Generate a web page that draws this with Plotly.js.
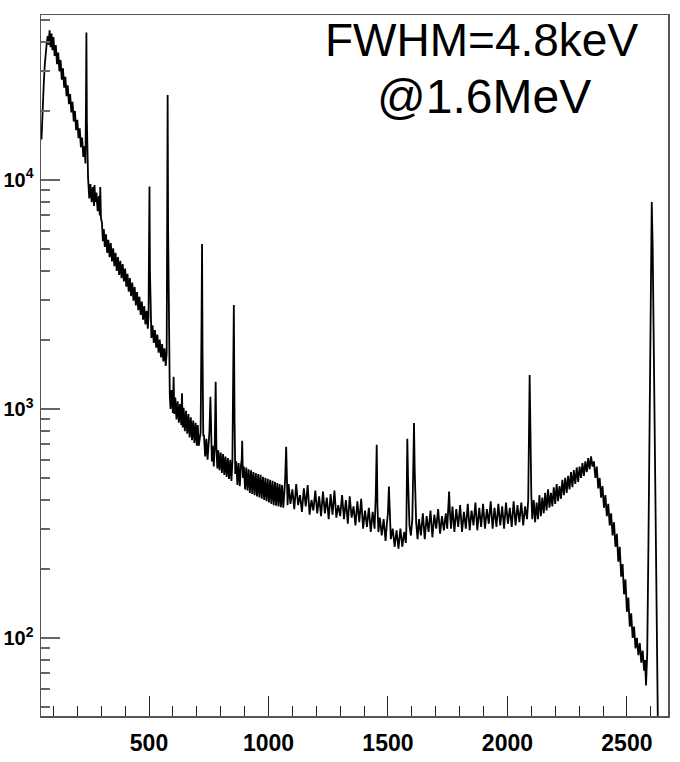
<!DOCTYPE html>
<html>
<head>
<meta charset="utf-8">
<script src="https://cdn.plot.ly/plotly-3.0.1.min.js"></script>
<style>html,body{margin:0;padding:0;background:#fff;}#chart{width:680px;height:762px;}</style>
</head>
<body>
<div id="chart"></div>
<script>
// Energy (keV) of each histogram sample
const energy = [
  50, 53, 56, 60, 64, 68, 72, 76, 80, 84, 88, 92, 96, 100,
  105, 110, 115, 120, 125, 130, 135, 140, 145, 150, 155, 160, 165, 170,
  175, 180, 185, 190, 195, 200, 205, 210, 215, 220, 225, 230, 234,
  236, 238, 240, 242,
  245, 250, 255, 260, 265, 270, 272, 275, 280, 285, 290, 294, 296, 299,
  303, 307, 311, 315, 320, 325, 330, 335, 340, 345, 350, 355, 360, 365,
  370, 375, 380, 385, 390, 395, 400, 405, 410, 415, 420, 425, 430, 435,
  440, 445, 450, 455, 460, 465, 470, 475, 480, 485, 490, 495, 498,
  500, 502, 504, 507,
  510, 515, 520, 525, 530, 535, 540, 545, 550, 555, 560, 565, 570, 574,
  576, 578, 580, 583, 587,
  590, 595, 600, 603, 606, 610, 615, 620, 625, 630, 635, 638, 641, 645,
  650, 655, 660, 665, 670, 675, 680, 685, 690, 695, 700, 704, 708,
  716, 720, 722, 724, 727,
  730, 735, 740, 745, 750, 753, 757, 760, 763, 767, 771, 775, 777, 779, 782, 786,
  790, 795, 800, 805, 810, 815, 820, 825, 830, 835, 840, 845, 849,
  852, 855, 858, 861,
  865, 870, 875, 880, 885, 888, 890, 893,
  897, 902, 907, 912, 917, 922, 927, 932, 937, 942, 947, 952, 957, 962,
  967, 972, 977, 982, 987, 992, 997, 1002, 1007, 1012, 1017, 1022, 1027, 1032,
  1037, 1042, 1047, 1052, 1057, 1062, 1067, 1070, 1074, 1077, 1080,
  1084, 1092, 1100, 1108, 1116, 1124, 1132, 1140, 1148, 1156, 1164, 1172, 1180, 1188, 1196, 1204,
  1212, 1220, 1228, 1236, 1244, 1252, 1260, 1268, 1276, 1284, 1292, 1300,
  1308, 1316, 1324, 1332, 1340, 1348, 1356, 1364, 1372, 1380, 1388, 1396, 1404, 1412, 1420, 1428, 1436, 1444,
  1449, 1453, 1456, 1460,
  1466, 1474, 1482, 1490, 1496, 1500, 1504, 1507, 1512, 1520, 1528, 1536, 1544, 1552, 1560, 1568, 1575,
  1577, 1579, 1581, 1584, 1590, 1596, 1602, 1606, 1609, 1612, 1618, 1624,
  1630, 1638, 1646, 1654, 1662, 1670, 1678, 1686, 1694, 1702, 1710, 1718, 1726, 1734, 1742, 1748,
  1753, 1756, 1759, 1764,
  1770, 1778, 1786, 1794, 1802, 1810, 1818, 1826, 1834, 1842, 1850, 1858, 1866, 1874, 1882, 1890,
  1898, 1906, 1914, 1922, 1930, 1938, 1946, 1954, 1962, 1970, 1978, 1986, 1994, 2002, 2010, 2018,
  2026, 2034, 2042, 2050, 2058, 2066, 2074, 2082, 2087,
  2089, 2091, 2093, 2095, 2097, 2100, 2104,
  2110, 2116, 2122, 2128, 2134, 2140, 2146, 2152, 2158, 2164, 2170, 2176, 2182, 2188, 2194, 2200,
  2206, 2212, 2218, 2224, 2230, 2236, 2242, 2248, 2254, 2260, 2266, 2272, 2278, 2284, 2290, 2296,
  2302, 2308, 2314, 2320, 2326, 2332, 2338, 2344, 2350, 2356, 2362,
  2368, 2374, 2380, 2386, 2392, 2398, 2404, 2410, 2416, 2422, 2428, 2434, 2440, 2446, 2452, 2458,
  2464, 2470, 2476, 2482, 2488, 2494, 2500, 2506, 2512, 2518, 2524, 2530, 2536, 2542, 2548, 2554, 2560, 2566, 2572, 2576, 2580, 2585,
  2590, 2595, 2600, 2604, 2608, 2613, 2618, 2623, 2628, 2632, 2640
];
// Counts per bin (log scale)
const counts = [
  15000, 19000, 22000, 27000, 32000, 36500, 39500, 42500, 39000, 45000, 38000, 43500, 36800, 42000,
  34800, 38800, 32000, 36000, 29800, 33400, 27400, 30700, 25300, 28200, 23200, 25900, 21400, 23700,
  19700, 21900, 18000, 20000, 16500, 18300, 15200, 16800, 13900, 15300, 12600, 14000, 11800,
  20000, 44000, 18000, 10500,
  10200, 8300, 9600, 8000, 9300, 7700, 9500, 8000, 8800, 7300, 8500, 7000, 9300, 6800,
  6500, 5400, 6100, 5100, 5780, 4800, 5480, 4600, 5300, 4400, 5020, 4200, 4800, 4000,
  4600, 3850, 4430, 3720, 4290, 3600, 4100, 3420, 3890, 3250, 3730, 3110, 3560, 2970,
  3400, 2830, 3240, 2700, 3090, 2570, 2940, 2450, 2810, 2340, 2680, 2240, 2560,
  5000, 9350, 4000, 2250,
  2040, 2320, 1940, 2210, 1850, 2110, 1760, 2010, 1680, 1920, 1610, 1840, 1540, 1760,
  8000, 23500, 6000, 1900, 1150,
  1000, 1210, 960, 1380, 950, 1120, 900, 1080, 870, 1050, 850, 1170, 830, 1010,
  800, 980, 780, 950, 750, 920, 730, 890, 710, 870, 690, 850, 690,
  790, 2500, 5250, 1800, 760,
  770, 620, 740, 600, 715, 800, 1130, 700, 590, 690, 560, 680, 900, 1315, 680, 550,
  660, 540, 645, 525, 635, 515, 620, 505, 610, 495, 600, 485, 590,
  1200, 2840, 900, 520,
  590, 465, 580, 460, 570, 600, 725, 500,
  560, 445, 555, 440, 545, 430, 540, 425, 530, 420, 525, 415, 520, 410,
  515, 405, 505, 400, 500, 395, 495, 390, 490, 385, 485, 380, 480, 378,
  475, 375, 470, 372, 465, 370, 440, 500, 684, 470, 380,
  470, 385, 445, 365, 470, 380, 420, 355, 450, 375, 465, 345, 400, 360, 440, 350,
  415, 340, 435, 350, 410, 330, 425, 345, 440, 335, 380, 340,
  420, 330, 400, 315, 415, 335, 375, 310, 395, 320, 405, 300, 360, 305, 370, 290, 355, 300,
  420, 697, 380, 290,
  335, 280, 330, 265, 320, 350, 458, 330, 270, 300, 250, 295, 245, 300, 250, 290, 260,
  300, 500, 740, 500, 310, 280, 330, 560, 867, 540, 320, 270,
  330, 280, 350, 270, 340, 290, 360, 275, 345, 300, 365, 285, 340, 295, 350, 300,
  380, 436, 360, 300,
  375, 290, 365, 305, 380, 290, 355, 300, 385, 295, 360, 310, 390, 295, 370, 305,
  385, 300, 365, 315, 395, 300, 370, 305, 385, 310, 375, 300, 390, 315, 370, 305,
  395, 310, 380, 320, 390, 310, 375, 330, 400,
  700, 1150, 1406, 1000, 600, 420, 330,
  400, 320, 390, 330, 420, 340, 410, 350, 430, 360, 445, 370, 430, 375, 455, 385,
  470, 395, 460, 405, 490, 420, 500, 430, 510, 445, 530, 455, 540, 470, 555, 480,
  560, 500, 580, 510, 590, 530, 610, 545, 620, 560, 590,
  500, 560, 450, 500, 410, 460, 370, 420, 340, 385, 310, 350, 280, 320, 250, 285,
  215, 250, 185, 210, 155, 180, 130, 150, 112, 128, 100, 112, 90, 100, 84, 95, 78, 88, 72, 80, 62, 85,
  250, 1200, 4500, 8000, 5000, 1500, 400, 120, 45, 25, 12
];
// Axis ticks
const xMajorStep = 500;
const xMinorStep = 100;
const yMajorVals = [100, 1000, 10000];
const yMajorText = ['10<sup>2</sup>', '10<sup>3</sup>', '10<sup>4</sup>'];
const yMinorVals = [50, 60, 70, 80, 90, 200, 300, 400, 500, 600, 700, 800, 900,
  2000, 3000, 4000, 5000, 6000, 7000, 8000, 9000, 20000, 30000, 40000, 50000];
const noteLines = ['FWHM=4.8keV', '@1.6MeV'];

const tickFont = {family: 'Liberation Sans, Arial', size: 23, color: '#000', weight: 'bold'};

const trace = {
  x: energy, y: counts, type: 'scatter', mode: 'lines',
  line: {color: '#000', width: 1.8}, hoverinfo: 'skip', showlegend: false
};

const layout = {
  width: 680, height: 762,
  margin: {l: 41, r: 12, t: 15, b: 46, pad: 0},
  paper_bgcolor: '#fff', plot_bgcolor: '#fff',
  xaxis: {
    range: [48, 2672], showgrid: false, zeroline: false,
    showline: true, mirror: true, linecolor: '#555', linewidth: 1.5,
    ticks: 'inside', ticklen: 20, tickwidth: 1, tickcolor: '#222',
    tick0: 0, dtick: xMajorStep,
    minor: {ticks: 'inside', ticklen: 10, tickwidth: 1, tickcolor: '#222', tick0: 0, dtick: xMinorStep, showgrid: false},
    tickfont: tickFont, ticklabelstandoff: 6
  },
  yaxis: {
    type: 'log', range: [1.659, 4.72], showgrid: false, zeroline: false,
    showline: true, mirror: true, linecolor: '#555', linewidth: 1.5,
    ticks: 'inside', ticklen: 19, tickwidth: 2, tickcolor: '#666',
    tickmode: 'array', tickvals: yMajorVals, ticktext: yMajorText,
    minor: {ticks: 'inside', ticklen: 9, tickwidth: 2, tickcolor: '#666', tickmode: 'array', tickvals: yMinorVals, showgrid: false},
    tickfont: Object.assign({}, tickFont, {size: 20}), ticklabelstandoff: 2
  },
  annotations: [
    {xref: 'paper', yref: 'paper', x: 0.703, y: 0.964, xanchor: 'center', yanchor: 'middle',
     text: noteLines[0], showarrow: false, font: {family: 'Liberation Sans, Arial', size: 46, color: '#000'}},
    {xref: 'paper', yref: 'paper', x: 0.706, y: 0.884, xanchor: 'center', yanchor: 'middle',
     text: noteLines[1], showarrow: false, font: {family: 'Liberation Sans, Arial', size: 48, color: '#000'}}
  ]
};

Plotly.newPlot('chart', [trace], layout, {staticPlot: true, displayModeBar: false});
</script>
</body>
</html>
